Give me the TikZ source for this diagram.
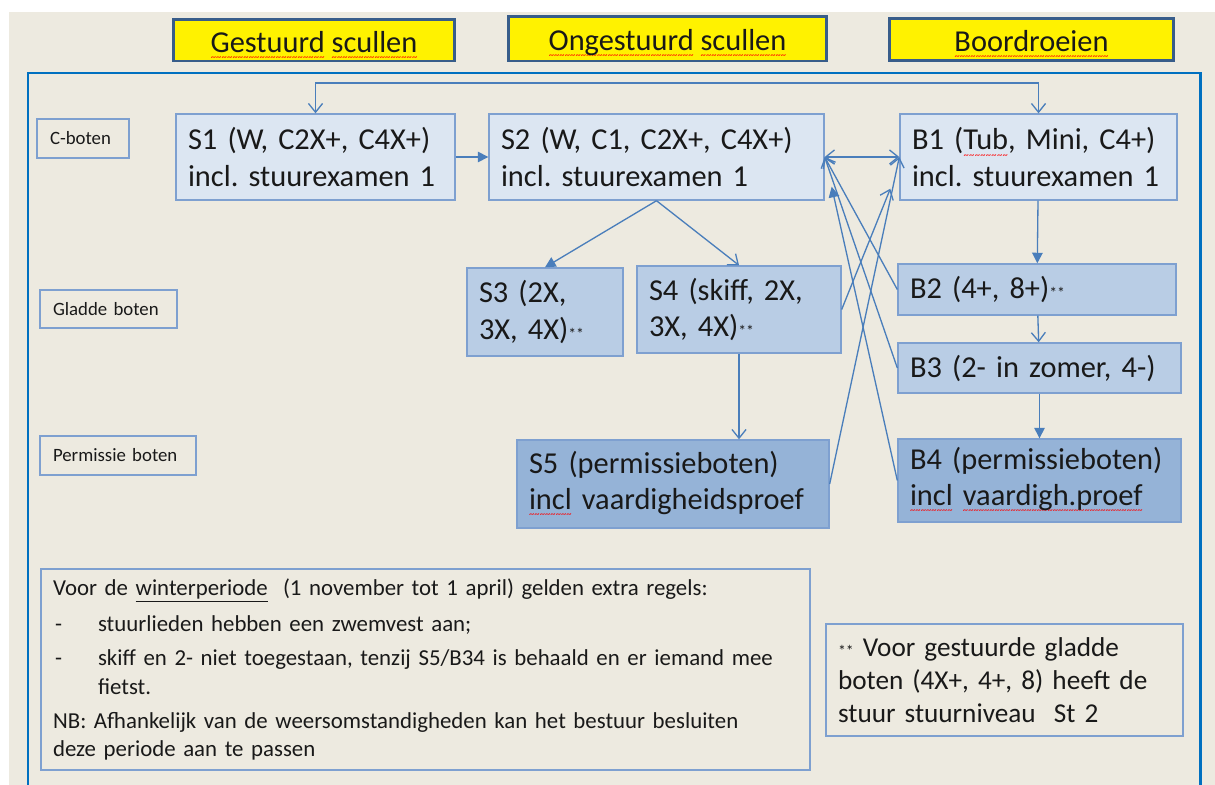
\documentclass[tikz,border=0pt]{standalone}
\usepackage{fontspec}
\setmainfont{Carlito}
\usetikzlibrary{arrows.meta, calc, positioning}

\definecolor{paper}{HTML}{EDEAE0}
\definecolor{lnk}{HTML}{4A7EBB}
\definecolor{rim}{HTML}{7EA0D0}
\definecolor{boxlight}{HTML}{DCE6F2}
\definecolor{boxmid}{HTML}{B9CDE5}
\definecolor{boxdark}{HTML}{95B3D7}
\definecolor{frameblue}{HTML}{0070C0}
\definecolor{hdrrim}{HTML}{385D8A}

\frenchspacing
\newcommand\squig[1]{\leavevmode\setbox0\hbox{#1}\rlap{\lower4.6pt\hbox to\wd0{\color{red}\xleaders\hbox{\fontsize{6}{6}\selectfont\char"7E}\hfill}}#1}
\newcommand\twostar{{\fontsize{9}{9}\selectfont **}}

\begin{document}
\begin{tikzpicture}[x=0.02cm,y=-0.02cm,>={Straight Barb[length=5pt,width=8pt]},
	font=\fontsize{17.3}{20.5}\selectfont,
	link/.style={draw=lnk, line width=0.75pt},
	solidtip/.style={-{Triangle[length=6pt,width=6pt]}}]
	\tikzset{every node/.style={text=black!90},
		hdr/.style={draw=hdrrim, fill=yellow, line width=1.7pt, minimum height=0.84cm, text height=0.6cm, text depth=0.12cm, inner ysep=0pt},
		lbl/.style={draw=rim, line width=0.8pt, align=left, inner xsep=0.26cm, minimum height=0.78cm, font=\fontsize{10.7}{13}\selectfont},
		box/.style={draw=rim, line width=0.8pt, align=left, inner xsep=0.24cm, inner ysep=1pt},
		note/.style={draw=rim, line width=0.8pt, align=left, inner xsep=0.24cm, inner ysep=1pt}}
	\useasboundingbox (0,0) rectangle (1215,785);
	\fill[paper] (9,12) rectangle (1215,785);
	\draw[frameblue, line width=1.7pt] (28,800) -- (28,73) -- (1200,73) -- (1200,800);

	\node[hdr, minimum width=5.64cm] (gest) at (314,40) {\squig{Gestuurd} \squig{scullen}};
	\node[hdr, minimum width=6.38cm, minimum height=0.9cm] (onge) at (667.5,38.5) {\squig{Ongestuurd} \squig{scullen}};
	\node[hdr, minimum width=5.68cm] (boord) at (1031.5,39.5) {\squig{Boordroeien}};

	\node[lbl, text width=1.32cm] (cb) at (83,138.5) {C-boten};
	\node[lbl, text width=2.22cm, minimum height=0.76cm] (gb) at (108.5,309) {Gladde boten};
	\node[lbl, text width=2.60cm] (pb) at (118,455.5) {Permissie boten};

	\node[box, fill=boxlight, text width=5.10cm, minimum height=1.72cm] (S1) at (315.5,157) {S1 (W, C2X+, C4X+)\\incl. stuurexamen 1};
	\node[box, fill=boxlight, text width=6.22cm, minimum height=1.72cm] (S2) at (656.5,157) {S2 (W, C1, C2X+, C4X+)\\incl. stuurexamen 1};
	\node[box, fill=boxlight, text width=5.06cm, minimum height=1.72cm] (B1) at (1038.5,157) {B1 (\squig{Tub}, Mini, C4+)\\incl. stuurexamen 1};
	\node[box, fill=boxmid, text width=2.64cm, minimum height=1.76cm] (S3) at (545,312) {S3 (2X,\\3X, 4X)\twostar};
	\node[box, fill=boxmid, text width=3.60cm, minimum height=1.74cm] (S4) at (739,309.5) {S4 (skiff, 2X,\\3X, 4X)\twostar};
	\node[box, fill=boxmid, text width=5.08cm, minimum height=1.02cm] (B2) at (1037,289.5) {B2 (4+, 8+)\twostar};
	\node[box, fill=boxmid, text width=5.18cm, minimum height=1.00cm] (B3) at (1039.5,368) {B3 (2- in zomer, 4-)};
	\node[box, fill=boxdark, text width=5.76cm, minimum height=1.76cm] (S5) at (673,484) {S5 (permissieboten)\\\squig{incl} vaardigheidsproef};
	\node[box, fill=boxdark, text width=5.18cm, minimum height=1.66cm] (B4) at (1039.5,480.5) {B4 (permissieboten)\\\squig{incl} \squig{vaardigh.proef}};

	\node[note, text width=14.9cm, minimum height=4.02cm, font=\fontsize{13}{16}\selectfont] (winter) at (425.5,669.5)
		{Voor de \underline{winterperiode}~ (1 november tot 1 april) gelden extra regels:\\[4.5pt]
		\makebox[0.9cm][l]{\hspace{0.04cm}-}stuurlieden hebben een zwemvest aan;\\[3.5pt]
		\makebox[0.9cm][l]{\hspace{0.04cm}-}skiff en 2- niet toegestaan, tenzij S5/B34 is behaald en er iemand mee\\
		\hspace*{0.9cm}fietst.\\[3.5pt]
		NB: Afhankelijk van de weersomstandigheden kan het bestuur besluiten\\
		deze periode aan te passen};
	\node[note, text width=6.66cm, minimum height=2.24cm, font=\fontsize{15.5}{18.8}\selectfont] (starnote) at (1004.5,680)
		{\twostar{} Voor gestuurde gladde\\boten (4X+, 4+, 8) heeft de\\stuur stuurniveau\ \ St 2};

	\coordinate (ridge) at (0,83);
	\draw[link, <->] (S1.north) -- (S1.north |- ridge) -- (B1.north |- ridge) -- (B1.north);
	\draw[link, solidtip] (S1) -- (S2);
	\draw[link, <->] (S2) -- (B1);
	\draw[link, solidtip] (S2.south) -- (S3.north);
	\draw[link, ->] (S2.south) -- (S4.north);
	\draw[link, ->] (S4.south) -- (S4.south |- S5.north);
	\draw[link, solidtip] (B1) -- (B2);
	\draw[link, ->] (B2) -- (B3);
	\draw[link, solidtip] (B3) -- (B4);
	\draw[link, ->] (B2.west) -- (S2.east);
	\draw[link, ->] (B3.west) -- (S2.east);
	\draw[link, solidtip] (B4.west) -- ($(S2.south east)+(7,-14)$);
	\draw[link, ->] (S4.east) -- ($(B1.south west)+(-9,-12)$);
	\draw[link, ->] (S5.east) -- (B1.west);
\end{tikzpicture}
\end{document}
